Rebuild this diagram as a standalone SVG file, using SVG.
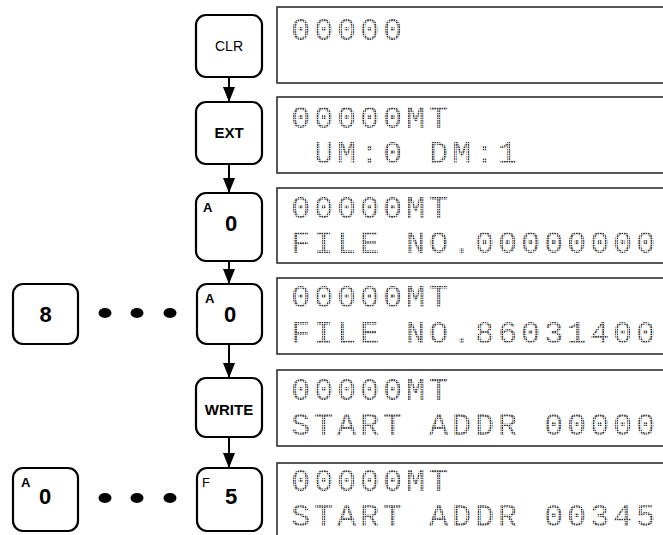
<svg xmlns="http://www.w3.org/2000/svg" width="663" height="535" viewBox="0 0 663 535">
<style>
.key{fill:#fff;stroke:#000;stroke-width:2.2}
.disp{fill:#fff;stroke:#222;stroke-width:1.5}
.kt{font-family:"Liberation Sans",Arial,sans-serif;fill:#000;text-anchor:middle}
.big{font-size:22px;font-weight:bold}
.sm{font-size:13px;text-anchor:start}
.lbl{font-size:15px;font-weight:bold}
.lcd{font-family:"Liberation Mono","DejaVu Sans Mono",monospace;font-size:32px;letter-spacing:3.8px;fill:url(#dotfill);white-space:pre}
.conn{stroke:#000;stroke-width:2;fill:none}
.dot{fill:#000}
</style>
<defs>
<pattern id="dotfill" patternUnits="userSpaceOnUse" width="2.4" height="2.4">
<rect x="0" y="0" width="1.7" height="1.7" fill="#333"/>
</pattern>
<marker id="ah" markerUnits="userSpaceOnUse" markerWidth="15" markerHeight="12" refX="15" refY="6" orient="auto" viewBox="0 0 15 12">
<path d="M0,0 L15,6 L0,12 Z" fill="#000"/>
</marker>
</defs>

<g id="displays">
<g id="d1"><rect class="disp" x="277" y="7" width="400" height="76"/><text class="lcd" x="291" y="40">00000</text></g>
<g id="d2"><rect class="disp" x="277" y="97" width="400" height="76"/><text class="lcd" x="291" y="128">00000MT</text><text class="lcd" x="291" y="163" xml:space="preserve"> UM:0 DM:1</text></g>
<g id="d3"><rect class="disp" x="277" y="188" width="400" height="75"/><text class="lcd" x="291" y="218">00000MT</text><text class="lcd" x="291" y="253">FILE NO.00000000</text></g>
<g id="d4"><rect class="disp" x="277" y="278" width="400" height="76"/><text class="lcd" x="291" y="307">00000MT</text><text class="lcd" x="291" y="343">FILE NO.86031400</text></g>
<g id="d5"><rect class="disp" x="277" y="370" width="400" height="76"/><text class="lcd" x="291" y="400">00000MT</text><text class="lcd" x="291" y="435">START ADDR 00000</text></g>
<g id="d6"><rect class="disp" x="277" y="463" width="400" height="80"/><text class="lcd" x="291" y="491">00000MT</text><text class="lcd" x="291" y="526">START ADDR 00345</text></g>
</g>

<g id="connectors">
<line class="conn" x1="229" y1="77" x2="229" y2="102" marker-end="url(#ah)"/>
<line class="conn" x1="229" y1="164" x2="229" y2="193" marker-end="url(#ah)"/>
<line class="conn" x1="229" y1="261" x2="229" y2="284" marker-end="url(#ah)"/>
<line class="conn" x1="229" y1="344" x2="229" y2="378" marker-end="url(#ah)"/>
<line class="conn" x1="229" y1="437" x2="229" y2="468" marker-end="url(#ah)"/>
</g>

<g id="k_clr"><rect class="key" x="196" y="15" width="66" height="62" rx="10"/><text class="kt" x="229" y="51" font-size="14">CLR</text></g>
<g id="k_ext"><rect class="key" x="196" y="102" width="66" height="62" rx="10"/><text class="kt lbl" x="229" y="138">EXT</text></g>
<g id="k_a0_1"><rect class="key" x="196" y="193" width="66" height="68" rx="10"/><text class="kt sm" x="203" y="212" font-weight="bold">A</text><text class="kt big" x="231" y="231">0</text></g>
<g id="k_8"><rect class="key" x="13" y="284" width="65" height="60" rx="10"/><text class="kt big" x="45.5" y="322">8</text></g>
<g id="dots1"><ellipse class="dot" cx="105" cy="313" rx="6.5" ry="5"/><ellipse class="dot" cx="137" cy="313" rx="6.5" ry="5"/><ellipse class="dot" cx="170" cy="313" rx="6.5" ry="5"/></g>
<g id="k_a0_2"><rect class="key" x="197" y="284" width="65" height="60" rx="10"/><text class="kt sm" x="205" y="303" font-weight="bold">A</text><text class="kt big" x="230" y="322">0</text></g>
<g id="k_write"><rect class="key" x="196" y="378" width="66" height="59" rx="10"/><text class="kt lbl" x="229" y="415">WRITE</text></g>
<g id="k_a0_3"><rect class="key" x="13" y="468" width="65" height="63" rx="10"/><text class="kt sm" x="21" y="487" font-weight="bold">A</text><text class="kt big" x="45" y="504">0</text></g>
<g id="dots2"><ellipse class="dot" cx="105" cy="498" rx="6.5" ry="5"/><ellipse class="dot" cx="137" cy="498" rx="6.5" ry="5"/><ellipse class="dot" cx="170" cy="498" rx="6.5" ry="5"/></g>
<g id="k_f5"><rect class="key" x="197" y="468" width="65" height="63" rx="10"/><text class="kt sm" x="202" y="487">F</text><text class="kt big" x="231" y="504">5</text></g>
</svg>
